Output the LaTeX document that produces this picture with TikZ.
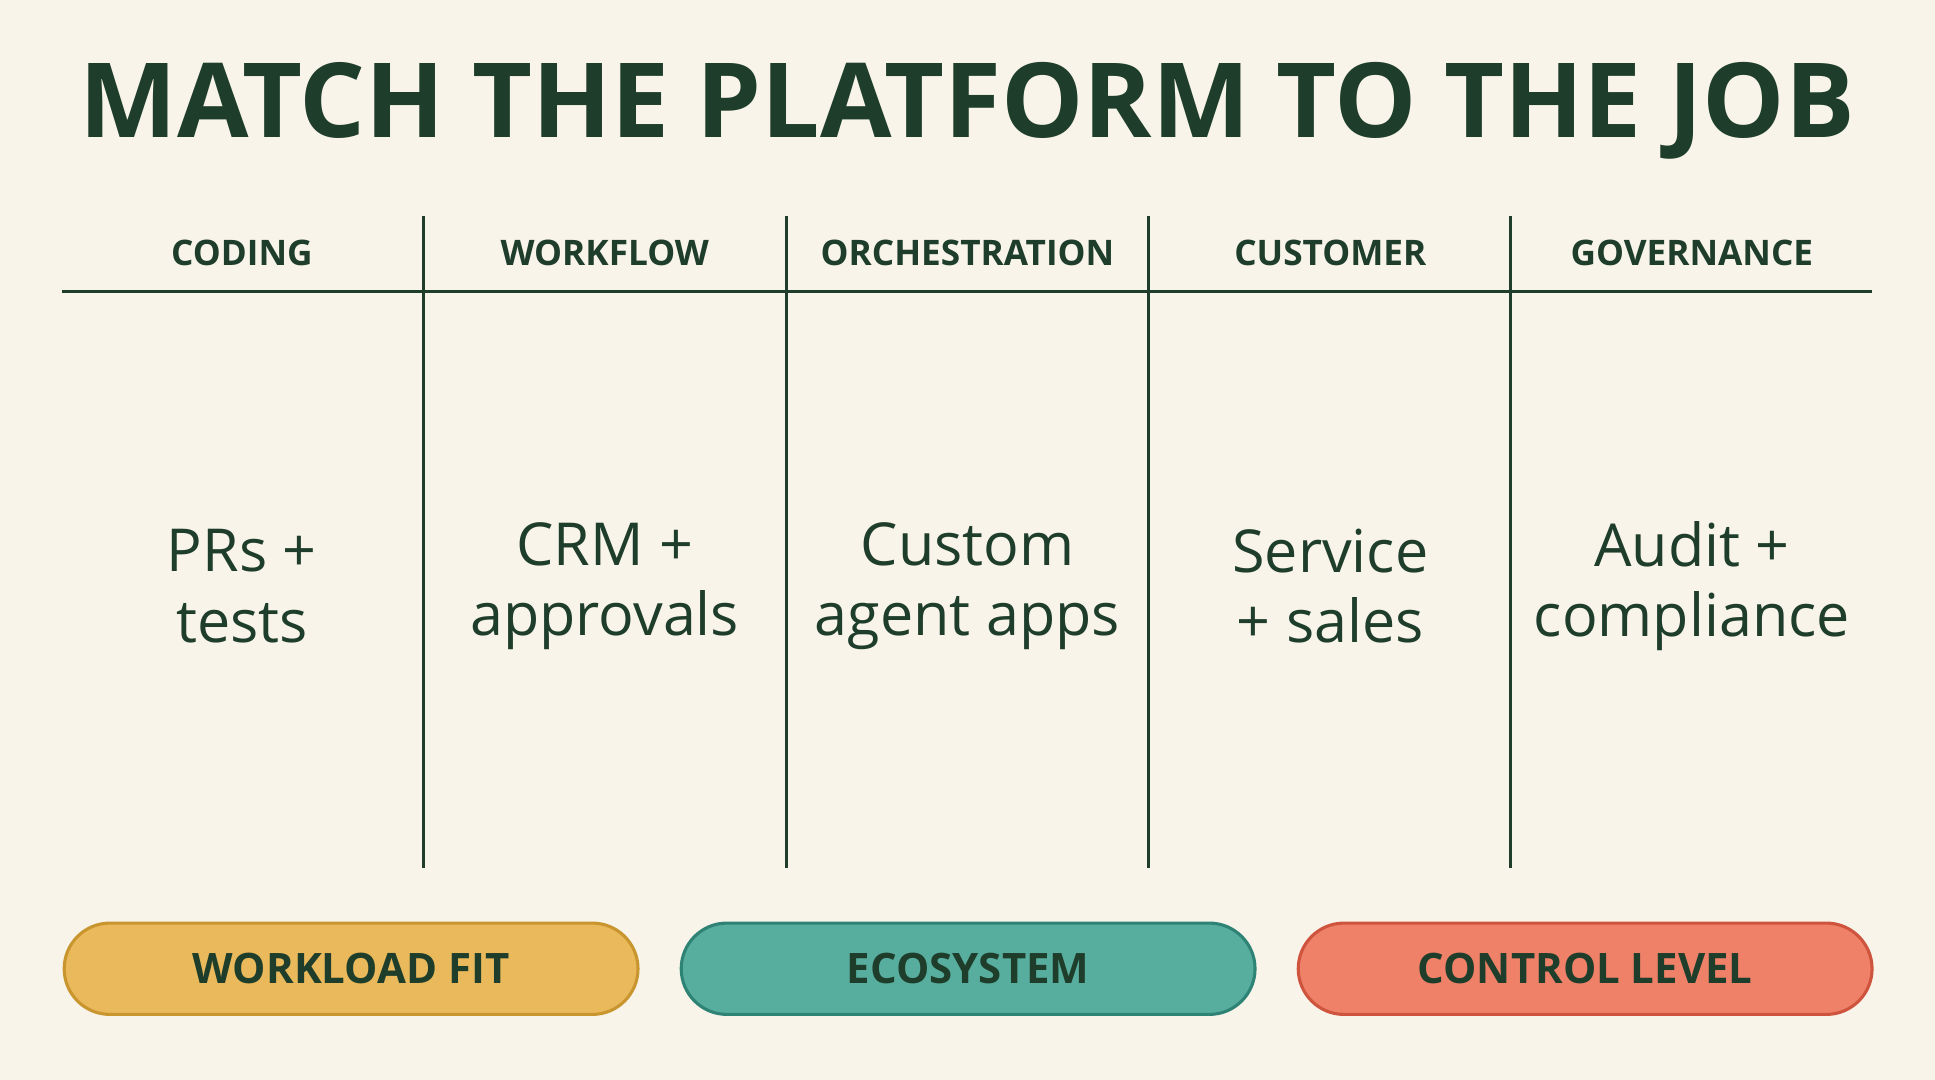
\documentclass[tikz,border=0pt]{standalone}
\usepackage{fontspec}
\setmainfont{Open Sans}
\definecolor{bg}{HTML}{F8F4EA}
\definecolor{ink}{HTML}{1E3D2A}
\definecolor{gold}{HTML}{E9B95C}\definecolor{goldb}{HTML}{C9952E}
\definecolor{teal}{HTML}{58AE9E}\definecolor{tealb}{HTML}{2F8375}
\definecolor{coral}{HTML}{EE8168}\definecolor{coralb}{HTML}{CF543E}
\begin{document}
\begin{tikzpicture}[x=1pt,y=-1pt,
 hdr/.style={font=\fontsize{28.5}{32}\selectfont\bfseries,text=ink},
 body/.style={font=\fontsize{48}{57}\selectfont,text=ink,align=center},
 rule/.style={draw=ink,line width=2.5pt},
 pill/.style={rounded corners=37pt,minimum width=465pt,minimum height=74pt,line width=2.5pt,font=\fontsize{34}{40}\selectfont\bfseries,text=ink}]
\fill[bg] (0,0) rectangle (1568,875);
\useasboundingbox (0,0) rectangle (1568,875);
\node[font=\fontsize{84}{90}\selectfont\bfseries,text=ink] (title) at (784,90) {MATCH THE PLATFORM TO THE JOB};
\coordinate (hl) at (50,236); \coordinate (hr) at (1517,236);
\draw[rule] (hl) -- (hr);
\foreach \x/\n in {343/a,637/b,931/c,1224/d}{
 \coordinate (t\n) at (\x,175); \coordinate (b\n) at (\x,703);
 \draw[rule] (t\n) -- (b\n);}
\node[hdr] (h1) at (196,205) {CODING};
\node[hdr] (h2) at (490,205) {WORKFLOW};
\node[hdr] (h3) at (784,205) {ORCHESTRATION};
\node[hdr] (h4) at (1078,205) {CUSTOMER};
\node[hdr] (h5) at (1371,205) {GOVERNANCE};
\node[body] (c1) at (196,475) {PRs +\\tests};
\node[body] (c2) at (490,475) {CRM +\\approvals};
\node[body] (c3) at (784,475) {Custom\\agent apps};
\node[body] (c4) at (1078,475) {Service\\+ sales};
\node[body] (c5) at (1371,475) {Audit +\\compliance};
\node[pill,fill=gold,draw=goldb] (p1) at (284.5,785) {WORKLOAD FIT};
\node[pill,fill=teal,draw=tealb] (p2) at (784.5,785) {ECOSYSTEM};
\node[pill,fill=coral,draw=coralb] (p3) at (1284.5,785) {CONTROL LEVEL};
\end{tikzpicture}
\end{document}
